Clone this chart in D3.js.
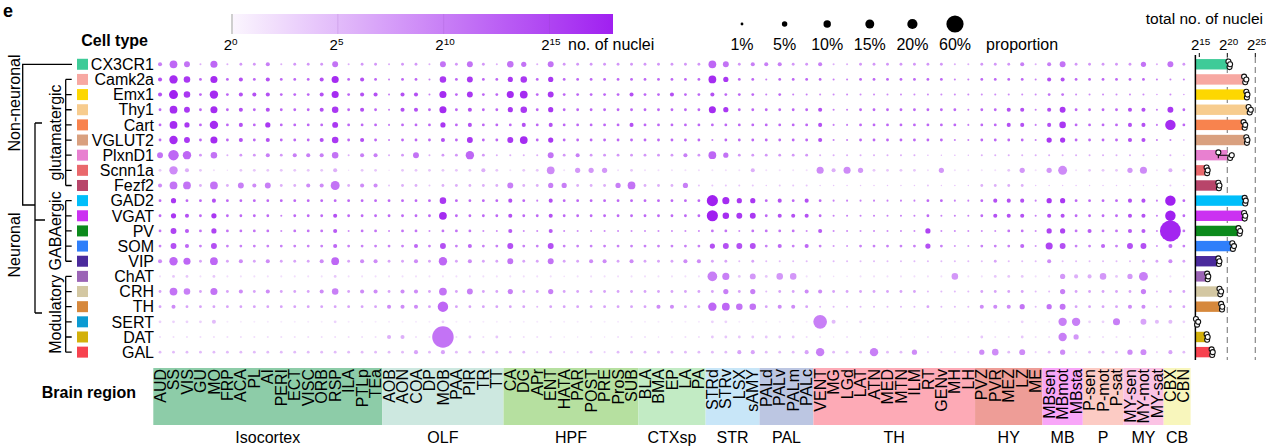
<!DOCTYPE html>
<html><head><meta charset="utf-8">
<script src="https://cdn.jsdelivr.net/npm/d3@7"></script>
<style>
html,body{margin:0;padding:0;background:#fff;}
svg{display:block;font-family:"Liberation Sans",Arial,Helvetica,sans-serif;}
</style></head><body>
<svg id="chart" width="1266" height="446"></svg>
<script>
// ---------------- DATA ----------------
const cellTypes = ["CX3CR1","Camk2a","Emx1","Thy1","Cart","VGLUT2","PlxnD1","Scnn1a","Fezf2","GAD2","VGAT","PV","SOM","VIP","ChAT","CRH","TH","SERT","DAT","GAL"];
const cellColors = ["#3ecb98","#f7a8a2","#fdd701","#f7cc8e","#f8834e","#d9a07f","#e880d0","#e9686c","#b8456a","#00befa","#cb31f1","#0c8a1c","#2f7ffa","#4a2a9c","#9b64b6","#d3c7a2","#d6883c","#0b9ad2","#d3b00a","#f7424f"];
const regions = ["AUD","SS","VIS","GU","MO","FRP","ACA","PL","AI","PERI","ECT","VISC","ORB","RSP","ILA","PTLp","TEa",
 "AOB","AON","COA","DP","MOB","PAA","PIR","TR","TT",
 "CA","DG","APr","ENT","HATA","PAR","POST","PRE","ProS","SUB",
 "BLA","BMA","EP","LA","PA",
 "STRd","STRv","LSX","sAMY",
 "PALd","PALv","PALm","PALc",
 "VENT","MG","LGd","LAT","ATN","MED","MTN","ILM","RT","GENv","MH","LH",
 "PVZ","PVR","MEZ","LZ","ME",
 "MBsen","MBmot","MBsta",
 "P-sen","P-mot","P-sat",
 "MY-sen","MY-mot","MY-sat",
 "CBX","CBN"];
const regionGroups = ["Isocortex","OLF","HPF","CTXsp","STR","PAL","TH","HY","MB","P","MY","CB"];
const regionGroupSizes = [17,9,10,5,4,4,12,5,3,3,3,2];
const regionGroupColors = ["#8dcca8","#cde8e0","#b6e0a0","#c2ebc4","#c8e6f8","#bcc6e2","#fdaab6","#ee9d97","#f8a6f8","#fccbc4","#fbc3e4","#f8f6bc"];

// total no. of nuclei per cell type (log2) and replicate values (log2)
const totalLog2 = [20.4,23.2,23.5,24.0,23.1,23.5,20.0,16.4,18.5,23.2,23.1,22.2,21.0,18.5,16.5,18.75,19.05,14.6,16.4,17.3];
const replicateLog2 = [
 [20.2,20.4,20.5],[23.0,23.2,23.4],[23.4,23.5,23.6],[23.8,24.0,24.2],[22.9,23.1,23.2],
 [23.4,23.5,23.6],[18.4,20.5,20.8],[16.3,16.4,16.5],[18.4,18.5,18.6],[23.1,23.2,23.3],
 [23.0,23.1,23.2],[22.0,22.2,22.3],[20.9,21.0,21.2],[18.4,18.5,18.6],[16.4,16.5,16.6],
 [18.6,18.75,18.9],[18.9,19.05,19.1],[14.4,14.6,14.8],[16.3,16.4,16.5],[17.2,17.3,17.4]];

// proportion (%) of each cell type's nuclei in each region (rows = cellTypes, cols = regions)
const proportion = [
 [2.5,11,6,.4,9,.4,1,1,2.5,.4,1,1,1,6,.4,1,1, .4,1,1,.4,6,1,6,1,.4, 7.5,4.5,.4,6,1,1,1,1,1,1, 1,1,1,1,1, 11,6,1,2.5, 2.5,2.5,1,1, 2.5,.4,.4,1,1,1,1,1,1,1,.4,.4, 1,1,1,2.5,.4, 2.5,6,1, 1,1,1, 1,4.5,.4, 6,1],
 [2.5,13,7.5,1,9,1,2.5,1,2.5,1,1,1,2.5,9,1,2.5,1, .4,1,1,.4,7.5,1,6,1,1, 4.5,7.5,1,4.5,1,1,1,1,1,1, 1,1,1,1,1, 11,4.5,1,1, .4,1,1,1, 1,.4,.4,1,1,1,1,1,1,1,.4,.4, 1,1,1,1,.4, 2.5,2.5,1, 1,1,1, 1,1,.4, .4,.4],
 [2.5,15,7.5,1,13,1,2.5,2.5,2.5,1,1,1,2.5,9,1,2.5,2.5, .4,2.5,2.5,.4,9,1,6,1,1, 9,11,1,6,1,1,1,1,1,2.5, 1,1,2.5,1,1, 2.5,1,1,1, .4,1,.4,.4, .4,.4,.4,.4,.4,.4,.4,.4,.4,.4,.4,.4, .4,.4,.4,.4,.4, 1,1,.4, .4,.4,.4, .4,.4,.15, .4,.15],
 [1,11,6,1,9,1,2.5,1,2.5,1,1,1,2.5,7.5,1,2.5,1, .4,2.5,2.5,1,9,1,2.5,1,1, 4.5,7.5,1,4.5,1,1,1,1,1,1, 1,1,1,1,1, 9,4.5,1,1, 1,1,1,1, 2.5,.4,.4,1,1,1,1,1,1,1,1,.4, 1,1,2.5,2.5,.4, 2.5,6,1, 1,1,1, 2.5,2.5,.4, 6,1],
 [1,11,4.5,1,13,1,2.5,1,4.5,1,1,1,1,6,1,1,1, .4,1,1,1,4.5,1,2.5,1,1, 1,2.5,1,2.5,1,1,1,1,1,2.5, 1,1,1,1,1, 1,1,1,1, 1,1,1,1, 2.5,.4,.4,1,1,1,1,1,1,1,1,.4, 1,1,2.5,2.5,.4, 2.5,7.5,1, 1,1,1, 2.5,2.5,.4, 21,1],
 [1,13,6,1,9,1,2.5,1,2.5,1,1,1,2.5,7.5,1,2.5,1, .4,1,1,1,2.5,1,6,1,1, 6,11,1,4.5,1,1,1,1,1,1, 1,1,1,1,1, .4,1,1,1, 1,1,1,1, 2.5,.4,.4,1,1,1,1,1,1,1,.4,.4, 1,1,1,1,.4, 4.5,4.5,1, 1,1,1, 2.5,2.5,.4, .4,.15],
 [6,21,13,1,7.5,.4,1,1,2.5,1,2.5,2.5,2.5,7.5,.4,2.5,2.5, .4,1,6,.4,1,1,13,1,.4, .4,.4,.4,6,1,2.5,1,1,1,1, 1,1,1,2.5,1, 11,4.5,1,1, 1,1,1,1, .4,.4,.4,.4,.4,.4,.4,.4,.15,.15,.15,.15, .4,.4,.4,.4,.4, .4,.4,.4, .4,.4,.4, .4,.4,.15, .4,.15],
 [1,13,2.5,1,.4,.15,1,1,1,1,1,1,1,2.5,.15,1,1, .15,1,1,1,1,1,1,2.5,1, .4,1,1,11,.4,4.5,4.5,4.5,.4,1, .4,.4,.4,.4,.4, .4,.4,.4,2.5, .4,.4,.4,.4, 9,2.5,9,4.5,1,1,1,1,.4,4.5,.4,.4, .4,.4,1,4.5,.4, 4.5,15,.4, 1,1,1, 4.5,9,.4, 2.5,1],
 [2.5,11,11,1,11,1,6,2.5,6,1,1,2.5,2.5,15,1,2.5,2.5, .4,1,1,.4,1,1,1,1,1, 6,1,1,4.5,4.5,1,1,1,4.5,11, 1,1,1,4.5,.4, .4,.4,.4,.4, .15,.4,.4,.4, .15,.15,.15,.15,.15,.15,.15,.15,.4,.15,.15,.15, 1,1,1,1,.15, .15,.15,.15, .15,.15,.15, .15,.15,.15, .4,.15],
 [1,4.5,1,1,2.5,1,1,1,1,1,1,1,1,1,1,1,1, 1,1,1,1,7.5,1,1,1,1, 2.5,1,.4,2.5,1,1,1,1,1,1, 1,1,1,1,1, 24,9,4.5,4.5, 1,2.5,1,2.5, 1,.4,.4,.4,.4,.4,.4,.4,1,1,.4,.4, 1,2.5,2.5,2.5,.4, 4.5,4.5,1, 1,1,1, 2.5,2.5,.4, 21,1],
 [1,4.5,2.5,1,4.5,1,1,1,1,.4,1,1,1,2.5,1,1,1, 1,1,1,1,11,1,1,1,1, 2.5,1,1,2.5,1,1,1,1,1,1, 1,1,1,1,1, 24,7.5,6,6, 1,2.5,2.5,2.5, 1,.4,.4,.4,.4,.4,.4,.4,1,.4,.4,.4, 1,2.5,2.5,2.5,.4, 2.5,2.5,1, 1,1,1, 2.5,2.5,.4, 21,1],
 [1,6,2.5,1,4.5,1,1,1,1,.4,1,1,1,2.5,.4,1,1, .4,1,1,.4,1,1,1,.4,.4, 2.5,.4,.4,2.5,.4,.4,.4,.4,.4,.4, .4,.4,.4,.4,.4, 1,1,.4,1, 1,1,1,.4, 2.5,.4,.4,.4,.4,.4,.4,.4,4.5,.4,.4,.4, .4,.4,1,1,.4, 4.5,4.5,1, 2.5,1,1, 2.5,2.5,.4, 90,1],
 [1,6,2.5,1,6,1,1,1,1,1,1,1,1,2.5,1,1,1, 1,1,2.5,1,6,1,2.5,1,1, 6,1,1,6,1,1,1,1,1,1, 1,1,1,1,1, 4.5,6,6,6, 1,2.5,1,2.5, 1,.4,.4,1,1,1,1,1,4.5,1,.4,.4, 1,1,1,2.5,.4, 9,6,1, 1,2.5,1, 6,6,.4, 2.5,1],
 [2.5,13,9,1,11,1,2.5,1,2.5,1,1,1,2.5,11,1,2.5,2.5, 1,1,2.5,1,13,1,2.5,1,1, 6,1,1,6,1,1,2.5,2.5,1,2.5, 1,1,1,2.5,2.5, 1,1,.4,1, .4,.4,.4,.4, .4,.4,.4,.4,.4,.4,.4,.4,.4,.4,.4,.4, .4,1,.4,.4,.4, 2.5,.4,.4, .4,.4,.4, .4,1,1, 2.5,1],
 [.4,1,1,.4,1,.4,.4,.4,.4,.4,.4,.4,.4,1,.4,.4,.4, .4,.4,.4,.4,.4,.4,.4,.4,.4, .4,.4,.4,.4,.15,.4,.4,.4,.4,.4, .4,.4,.4,.4,.4, 18,9,1,6, 1,7.5,7.5,.4, .4,.15,.15,.4,.4,.4,.4,.4,.4,.4,7.5,.4, .4,1,1,1,.4, .4,4.5,2.5, 2.5,7.5,1, 4.5,15,.4, .4,.4],
 [1,11,7.5,1,9,1,2.5,1,2.5,1,1,1,2.5,7.5,1,2.5,2.5, 1,2.5,2.5,1,11,1,6,1,1, 4.5,1,1,4.5,1,1,1,1,1,1, 1,1,1,1,1, 1,4.5,1,4.5, .4,1,1,2.5, 2.5,1,1,1,1,1,1,1,.4,.4,.4,.4, 1,1,1,1,.4, .4,4.5,1, 1,1,1, 1,4.5,.4, 1,1],
 [1,2.5,1,1,1,1,1,1,1,1,1,1,1,1,1,1,1, 2.5,2.5,2.5,1,21,1,1,1,1, 1,1,.4,1,1,1,1,1,1,1, 1,2.5,2.5,1,1, 13,11,7.5,7.5, 1,2.5,2.5,1, .4,.4,.4,.4,.4,.4,.4,.4,1,.4,.4,.4, 2.5,2.5,2.5,4.5,.4, 4.5,6,1, 1,1,1, 2.5,2.5,.4, 1,1],
 [1,1,1,1,2.5,.4,.4,.4,.4,.4,.4,.4,.4,1,.4,.4,.4, .4,.4,.4,.4,1,.4,.4,.4,.4, .4,.4,.4,.4,.4,.4,.4,.4,.4,.4, .4,.4,.4,.4,.4, 1,1,.4,.4, .4,.4,.4,.4, 37,2.5,.4,1,.4,.4,.4,.4,.4,.4,.4,.4, .4,.4,.4,1,.4, .4,13,13, 1,1,9, .4,6,2.5, 2.5,1],
 [.4,.4,.4,.4,.4,.4,.4,.4,.4,.4,.4,.4,.4,.4,.4,.4,.4, 2.5,2.5,.4,.4,95,.4,1,.4,1, .4,.4,.4,.4,.15,.15,.15,.15,.4,.4, .4,.15,.15,.4,.4, 1,1,1,1, 1,1,1,.4, .4,.15,.4,.15,.15,.15,.15,.15,.4,.15,.15,.4, 1,.4,.4,1,.4, .4,13,4.5, .4,.4,.4, .4,.4,.15, .4,.15],
 [1,1,1,1,1,1,1,1,1,1,1,1,1,1,1,1,1, 1,1,2.5,1,2.5,1,1,1,1, 1,1,.4,1,.4,.4,1,.4,1,1, 1,1,1,1,1, 1,1,2.5,2.5, 1,1,1,2.5, 13,1,1,1,13,1,1,4.5,.4,.4,.4,.4, 4.5,7.5,1,6,.4, 1,4.5,.4, 1,1,1, 4.5,6,.4, 2.5,1]
];

// no. of nuclei (log2) of each cell type in each region
const nucleiLog2 = [
 [10,12,11,6,12,6,8,8,10,6,8,8,8,11,6,8,8, 6,8,8,6,11,8,11,8,6, 11,11,6,11,8,8,8,8,8,8, 8,8,8,8,8, 12,11,8,10, 10,10,8,8, 10,6,6,8,8,8,8,8,8,8,6,6, 8,8,8,10,6, 10,11,8, 8,8,8, 8,11,6, 11,8],
 [14,17,16,12,17,12,14,12,14,12,12,12,14,17,12,14,12, 10,12,12,10,16,12,16,12,12, 16,16,12,16,12,12,12,12,12,12, 12,12,12,12,12, 17,16,12,12, 10,12,12,12, 12,10,10,12,12,12,12,12,12,12,10,10, 12,12,12,12,10, 14,14,12, 12,12,12, 12,12,10, 10,10],
 [14,18,16,12,17,12,14,14,14,12,12,12,14,17,12,14,14, 10,14,14,10,17,12,16,12,12, 17,17,12,16,12,12,12,12,12,14, 12,12,14,12,12, 14,12,12,12, 10,12,10,10, 9,9,9,9,9,9,9,9,9,9,9,9, 9,9,9,9,9, 11,11,9, 9,9,9, 9,9,8, 9,8],
 [12,17,16,12,17,12,14,12,14,12,12,12,14,16,12,14,12, 10,14,14,12,17,12,14,12,12, 16,16,12,16,12,12,12,12,12,12, 12,12,12,12,12, 17,16,12,12, 12,12,12,12, 14,10,10,12,12,12,12,12,12,12,12,10, 12,12,14,14,10, 14,16,12, 12,12,12, 14,14,10, 16,12],
 [12,17,16,12,17,12,14,12,16,12,12,12,12,16,12,12,12, 10,12,12,12,16,12,14,12,12, 12,14,12,14,12,12,12,12,12,14, 12,12,12,12,12, 12,12,12,12, 12,12,12,12, 14,10,10,12,12,12,12,12,12,12,12,10, 12,12,14,14,10, 14,16,12, 12,12,12, 14,14,10, 17,12],
 [12,17,16,12,17,12,14,12,14,12,12,12,14,16,12,14,12, 10,12,12,12,14,12,16,12,12, 16,17,12,16,12,12,12,12,12,12, 12,12,12,12,12, 10,12,12,12, 12,12,12,12, 14,10,10,12,12,12,12,12,12,12,10,10, 12,12,12,12,10, 16,16,12, 12,12,12, 14,14,10, 10,9],
 [11,12,12,8,11,6,8,8,10,8,10,10,10,11,6,10,10, 6,8,11,6,8,8,12,8,6, 6,6,6,11,8,10,8,8,8,8, 8,8,8,10,8, 12,11,8,8, 8,8,8,8, 6,6,6,6,6,6,6,6,5,5,5,5, 6,6,6,6,6, 6,6,6, 6,6,6, 6,6,5, 6,5],
 [4,9,6,4,2,2,4,4,4,4,4,4,4,6,2,4,4, 2,4,4,4,4,4,4,6,4, 2,4,4,9,2,8,8,8,2,4, 2,2,2,2,2, 2,2,2,6, 2,2,2,2, 9,6,9,8,4,4,4,4,2,8,2,2, 2,2,4,8,2, 8,9,2, 4,4,4, 8,9,2, 6,4],
 [9,11,11,6,11,6,10,9,10,6,6,9,9,11,6,9,9, 4,6,6,4,6,6,6,6,6, 10,6,6,10,10,6,6,6,10,11, 6,6,6,10,4, 4,4,4,4, 4,4,4,4, 4,4,4,4,4,4,4,4,4,4,4,4, 6,6,6,6,4, 4,4,4, 4,4,4, 4,4,4, 4,4],
 [12,16,12,12,14,12,12,12,12,12,12,12,12,12,12,12,12, 12,12,12,12,16,12,12,12,12, 14,12,10,14,12,12,12,12,12,12, 12,12,12,12,12, 18,17,16,16, 12,14,12,14, 12,10,10,10,10,10,10,10,12,12,10,10, 12,14,14,14,10, 16,16,12, 12,12,12, 14,14,10, 18,12],
 [12,16,14,12,16,12,12,12,12,10,12,12,12,14,12,12,12, 12,12,12,12,17,12,12,12,12, 14,12,12,14,12,12,12,12,12,12, 12,12,12,12,12, 18,17,16,16, 12,14,14,14, 12,10,10,10,10,10,10,10,12,10,10,10, 12,14,14,14,10, 14,14,12, 12,12,12, 14,14,10, 18,12],
 [11,15,13,11,15,11,11,11,11,9,11,11,11,13,9,11,11, 9,11,11,9,11,11,11,9,9, 13,9,9,13,9,9,9,9,9,9, 9,9,9,9,9, 11,11,9,11, 11,11,11,9, 13,9,9,9,9,9,9,9,15,9,9,9, 9,9,11,11,9, 15,15,11, 13,11,11, 13,13,9, 17.5,11],
 [10,14,12,10,14,10,10,10,10,10,10,10,10,12,10,10,10, 10,10,12,10,14,10,12,10,10, 14,10,10,14,10,10,10,10,10,10, 10,10,10,10,10, 14,14,14,14, 10,12,10,12, 10,8,8,10,10,10,10,10,14,10,8,8, 10,10,10,12,8, 15,14,10, 10,12,10, 14,14,8, 12,10],
 [9,12,12,7,12,7,9,7,9,7,7,7,9,12,7,9,9, 7,7,9,7,12,7,9,7,7, 11,7,7,11,7,7,9,9,7,9, 7,7,7,9,9, 7,7,5,7, 5,5,5,5, 5,5,5,5,5,5,5,5,5,5,5,5, 5,7,5,5,5, 9,5,5, 5,5,5, 5,7,7, 9,7],
 [2,4,4,2,4,2,2,2,2,2,2,2,2,4,2,2,2, 2,2,2,2,2,2,2,2,2, 2,2,2,2,2,2,2,2,2,2, 2,2,2,2,2, 10,10,4,8, 4,8,8,2, 2,2,2,2,2,2,2,2,2,2,8,2, 2,4,4,4,2, 2,8,6, 6,8,4, 8,10,2, 2,2],
 [7,11,10,7,11,7,9,7,9,7,7,7,9,10,7,9,9, 7,9,9,7,11,7,10,7,7, 10,7,7,10,7,7,7,7,7,7, 7,7,7,7,7, 7,10,7,10, 5,7,7,9, 9,7,7,7,7,7,7,7,5,5,5,5, 7,7,7,7,5, 5,10,7, 7,7,7, 7,10,5, 7,7],
 [7,9,7,7,7,7,7,7,7,7,7,7,7,7,7,7,7, 9,9,9,7,12,7,7,7,7, 7,7,5,7,7,7,7,7,7,7, 7,9,9,7,7, 12,12,11,11, 7,9,9,7, 5,5,5,5,5,5,5,5,7,5,5,5, 9,9,9,11,5, 11,11,7, 7,7,7, 9,9,5, 7,7],
 [3,3,3,3,5,1,1,1,1,1,1,1,1,3,1,1,1, 1,1,1,1,3,1,1,1,1, 1,1,1,1,1,1,1,1,1,1, 1,1,1,1,1, 3,3,1,1, 1,1,1,1, 10,5,1,3,1,1,1,1,1,1,1,1, 1,1,1,3,1, 1,10,10, 3,3,10, 1,7,5, 5,3],
 [2,2,2,2,2,2,2,2,2,2,2,2,2,2,2,2,2, 6,6,2,2,11,2,4,2,4, 2,2,2,2,2,2,2,2,2,2, 2,2,2,2,2, 4,4,4,4, 4,4,4,2, 2,2,2,2,2,2,2,2,2,2,2,2, 4,2,2,4,2, 2,10,8, 2,2,2, 2,2,2, 2,2],
 [5,5,5,5,5,5,5,5,5,5,5,5,5,5,5,5,5, 5,5,7,5,7,5,5,5,5, 5,5,3,5,3,3,5,3,5,5, 5,5,5,5,5, 5,5,7,7, 5,5,5,7, 10,5,5,5,10,5,5,9,3,3,3,3, 9,9,5,9,3, 5,9,3, 5,5,5, 9,9,3, 7,5]
];

const colorTicks = [0,5,10,15];
const sizeLegend = [1,5,10,15,20,60];
const barTicks = [15,20,25];
const groupBrackets = [
 {label:"glutamatergic", rows:["Camk2a","VGLUT2","Emx1","Thy1","Cart","PlxnD1","Scnn1a","Fezf2"]},
 {label:"GABAergic", rows:["GAD2","VGAT","PV","SOM","VIP"]},
 {label:"Modulatory", rows:["ChAT","CRH","TH","SERT","DAT","GAL"]}];

// ---------------- CHART ----------------
const svg = d3.select("#chart");
const x = d3.scaleBand().domain(regions).range([153.3, 1190.6]);
const y = d3.scaleBand().domain(cellTypes).range([56.7, 359.7]);
const cx = d => x(d) + x.bandwidth()/2;
const cy = d => y(d) + y.bandwidth()/2;
const r = d3.scaleSqrt().domain([0,100]).range([0.35,11]);
const color = d3.scaleLinear().domain([0,18]).range(["#fbf6fe","#a020f0"]).clamp(true);

// panel letter
svg.append("text").attr("x",3).attr("y",17).attr("font-size",18).attr("font-weight","bold").text("e");

// dots
const cells = [];
cellTypes.forEach((c,i)=>regions.forEach((g,j)=>cells.push({c,g,p:proportion[i][j],n:nucleiLog2[i][j]})));
svg.append("g").selectAll("circle").data(cells).join("circle")
  .attr("cx",d=>cx(d.g)).attr("cy",d=>cy(d.c)).attr("r",d=>r(d.p))
  .attr("fill",d=>color(d.n));

// cell type labels + swatches
svg.append("text").attr("x",148).attr("y",46).attr("text-anchor","end")
  .attr("font-size",16).attr("font-weight","bold").text("Cell type");
const rowG = svg.append("g");
rowG.selectAll("rect").data(cellTypes).join("rect")
  .attr("x",77).attr("y",d=>cy(d)-5.5).attr("width",11).attr("height",11)
  .attr("fill",(d,i)=>cellColors[i]);
rowG.selectAll("text").data(cellTypes).join("text")
  .attr("x",154).attr("y",d=>cy(d)).attr("dy","0.36em").attr("text-anchor","end")
  .attr("font-size",16).text(d=>d);

// hierarchy
const tree = svg.append("g").attr("stroke","#000").attr("stroke-width",1.3).attr("fill","none");
tree.append("path").attr("d",`M72,${cy("CX3CR1")}H22.7V205H35`);
tree.append("path").attr("d","M35,123V313M35,123H42M35,220H45M35,313H42");
groupBrackets.forEach(b=>{
  const ys = b.rows.map(cy);
  tree.append("path").attr("d",`M65.7,${d3.min(ys)}V${d3.max(ys)}` + ys.map(v=>`M65.7,${v}H71.7`).join(""));
});
const vlab = (t,xx,yy)=>svg.append("text").attr("transform",`translate(${xx},${yy}) rotate(-90)`)
  .attr("text-anchor","middle").attr("dy","0.36em").attr("font-size",16).text(t);
vlab("Non-neuronal",14,103);
vlab("Neuronal",14,245);
groupBrackets.forEach(b=>{const ys=b.rows.map(cy); vlab(b.label,55,(d3.min(ys)+d3.max(ys))/2);});

// region band
let start = 0;
const groupInfo = regionGroups.map((g,k)=>{const o={g,start,size:regionGroupSizes[k],col:regionGroupColors[k]}; start+=regionGroupSizes[k]; return o;});
const band = svg.append("g");
band.selectAll("rect").data(groupInfo).join("rect")
  .attr("x",d=>x(regions[d.start])).attr("y",368)
  .attr("width",d=>x.bandwidth()*d.size).attr("height",57).attr("fill",d=>d.col);
band.selectAll("text.col").data(regions).join("text").attr("class","col")
  .attr("transform",d=>`translate(${cx(d)+5.6},369) rotate(-90)`)
  .attr("text-anchor","end").attr("font-size",16).text(d=>d);
band.selectAll("text.grp").data(groupInfo).join("text").attr("class","grp")
  .attr("x",d=>x(regions[d.start])+x.bandwidth()*d.size/2).attr("y",443)
  .attr("text-anchor","middle").attr("font-size",16).text(d=>d.g);
svg.append("text").attr("x",136).attr("y",398).attr("text-anchor","end")
  .attr("font-size",16).attr("font-weight","bold").text("Brain region");

// color legend
const lx = d3.scaleLinear().domain([0,18]).range([232,613]);
const grad = svg.append("defs").append("linearGradient").attr("id","cgrad");
d3.range(0,19).forEach(v=>grad.append("stop").attr("offset",(v/18*100)+"%").attr("stop-color",color(v)));
svg.append("rect").attr("x",lx(0)).attr("y",14).attr("width",lx(18)-lx(0)).attr("height",20).attr("fill","url(#cgrad)");
svg.append("line").attr("x1",lx(0)).attr("x2",lx(0)).attr("y1",14).attr("y2",34).attr("stroke","#cfcfcf").attr("stroke-width",2);
svg.append("g").selectAll("line").data(colorTicks.slice(1)).join("line")
  .attr("x1",d=>lx(d)).attr("x2",d=>lx(d)).attr("y1",14).attr("y2",34)
  .attr("stroke","#8a40b0").attr("stroke-opacity",0.18);
const supLabel = (g,v,size)=>{const t=g.append("text").attr("font-size",size);
  t.append("tspan").text("2"); t.append("tspan").attr("font-size",size*0.66).attr("dy","-0.55em").text(v); return t;};
colorTicks.forEach(v=>supLabel(svg,v,15).attr("x",lx(v)-8.3).attr("y",50));
svg.append("text").attr("x",568).attr("y",50).attr("font-size",16).text("no. of nuclei");

// size legend
const sx = d3.scalePoint().domain(sizeLegend).range([742,955]);
svg.append("g").selectAll("circle").data(sizeLegend).join("circle")
  .attr("cx",d=>sx(d)).attr("cy",24).attr("r",d=>r(d)).attr("fill","#000");
svg.append("g").selectAll("text").data(sizeLegend).join("text")
  .attr("x",d=>sx(d)).attr("y",50).attr("text-anchor","middle").attr("font-size",16).text(d=>d+"%");
svg.append("text").attr("x",986).attr("y",50).attr("font-size",16).text("proportion");

// bar chart of totals
const xb = d3.scaleLinear().domain([15,25]).range([1199.3,1255.3]);
const barBase = 14.3;
svg.append("text").attr("x",1263).attr("y",24).attr("text-anchor","end").attr("font-size",15.5).text("total no. of nuclei");
barTicks.forEach(v=>supLabel(svg,v,15).attr("x",xb(v)-8.3).attr("y",50));
svg.append("g").selectAll("line").data(barTicks).join("line")
  .attr("x1",d=>xb(d)).attr("x2",d=>xb(d)).attr("y1",53).attr("y2",57).attr("stroke","#000");
svg.append("g").selectAll("line").data(barTicks.slice(1)).join("line")
  .attr("x1",d=>xb(d)).attr("x2",d=>xb(d)).attr("y1",57).attr("y2",360)
  .attr("stroke","#888").attr("stroke-width",1.2).attr("stroke-dasharray","6,4");
svg.append("g").selectAll("rect").data(cellTypes).join("rect")
  .attr("x",xb(barBase)).attr("y",d=>cy(d)-5.2).attr("height",10.4)
  .attr("width",(d,i)=>Math.max(0,xb(totalLog2[i])-xb(barBase))).attr("fill",(d,i)=>cellColors[i]);
svg.append("line").attr("x1",xb(barBase)).attr("x2",xb(barBase)).attr("y1",55).attr("y2",360).attr("stroke","#000").attr("stroke-width",1.5);
const errG = svg.append("g").attr("stroke","#000").attr("stroke-width",1.1);
cellTypes.forEach((c,i)=>{
  const e = d3.extent(replicateLog2[i]);
  if (xb(e[1])-xb(e[0]) > 3) {
    errG.append("path").attr("d",`M${xb(e[0])},${cy(c)}H${xb(e[1])}M${xb(e[0])},${cy(c)-3}V${cy(c)+3}M${xb(e[1])},${cy(c)-3}V${cy(c)+3}`);
  }
});
const reps = [];
cellTypes.forEach((c,i)=>replicateLog2[i].forEach((v,k)=>reps.push({c,v,k})));
const repOff = [-2.8,2.8,0];
svg.append("g").selectAll("circle").data(reps).join("circle")
  .attr("cx",d=>xb(d.v)).attr("cy",d=>cy(d.c)+repOff[d.k]).attr("r",2.5)
  .attr("fill","#fff").attr("stroke","#111").attr("stroke-width",1.1);
</script>
</body></html>
